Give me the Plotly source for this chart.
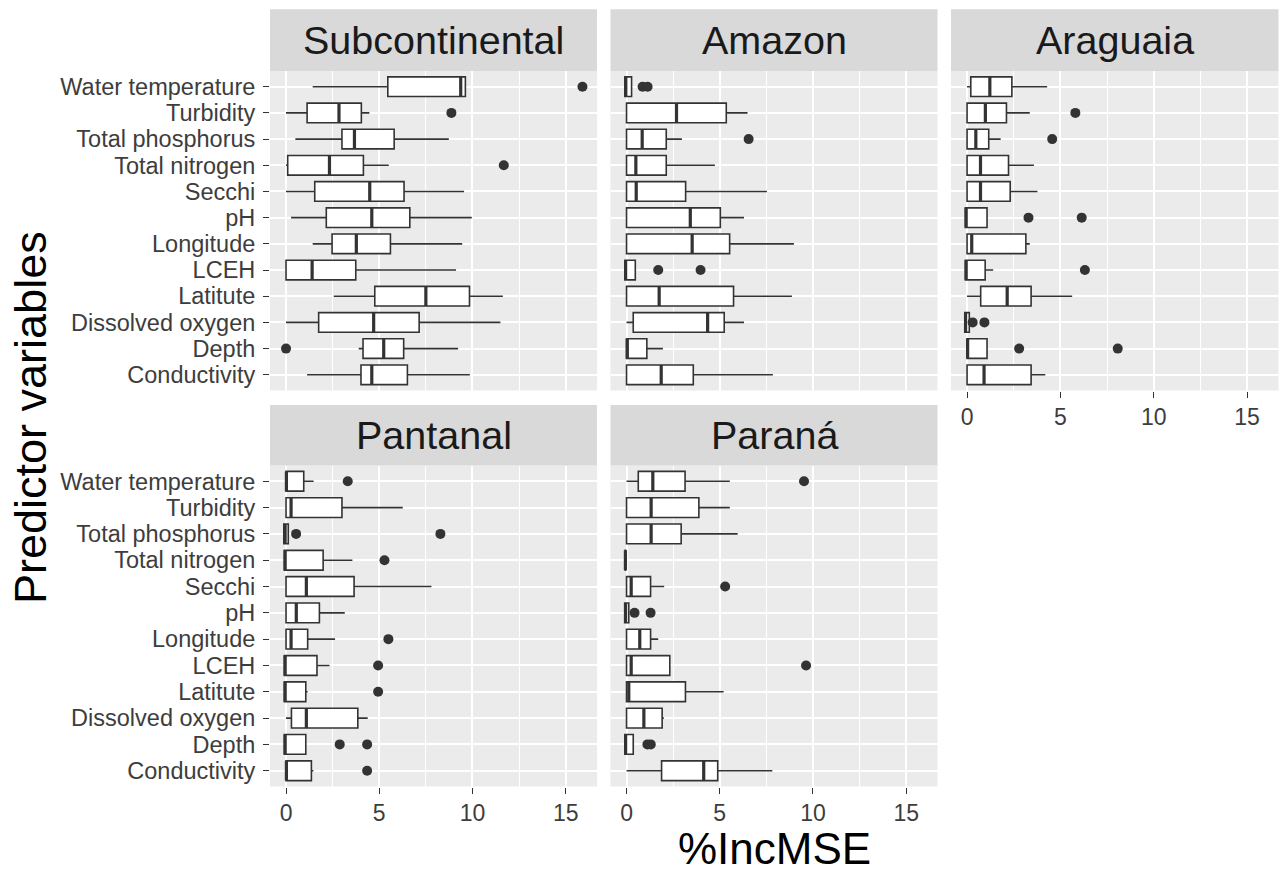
import plotly.graph_objects as go

# ---------------- data ----------------
VARIABLES = ["Water temperature", "Turbidity", "Total phosphorus", "Total nitrogen",
             "Secchi", "pH", "Longitude", "LCEH", "Latitute", "Dissolved oxygen",
             "Depth", "Conductivity"]
REGIONS = ["Subcontinental", "Amazon", "Araguaia", "Pantanal", "Paraná"]
X_TICKS = [0, 5, 10, 15]
X_MINOR = [2.5, 7.5, 12.5]

SUB_LO  = [1.43, 0.00, 0.50, 0.00, 0.00, 0.27, 1.43, 0.00, 2.56, 0.00, 3.90, 1.13]
SUB_Q1  = [5.46, 1.13, 3.00, 0.09, 1.54, 2.16, 2.47, 0.00, 4.76, 1.75, 4.13, 4.02]
SUB_MED = [9.37, 2.84, 3.67, 2.33, 4.49, 4.60, 3.77, 1.40, 7.50, 4.70, 5.24, 4.60]
SUB_Q3  = [9.62, 4.04, 5.80, 4.15, 6.33, 6.64, 5.60, 3.74, 9.84, 7.14, 6.31, 6.51]
SUB_HI  = [9.62, 4.47, 8.73, 5.51, 9.55, 9.96, 9.45, 9.12, 11.63, 11.50, 9.23, 9.86]
SUB_OUT = [[15.9], [8.87], [], [11.68], [], [], [], [], [], [], [0.0], []]

AMA_LO  = [-0.09, 0.00, 0.00, 0.00, 0.00, 0.00, 0.00, -0.09, 0.00, 0.00, 0.00, 0.00]
AMA_Q1  = [-0.09, 0.00, 0.00, 0.00, 0.00, 0.00, 0.00, -0.09, 0.00, 0.36, 0.00, 0.00]
AMA_MED = [-0.04, 2.68, 0.84, 0.50, 0.52, 3.42, 3.52, -0.05, 1.75, 4.35, 0.04, 1.86]
AMA_Q3  = [0.27, 5.35, 2.13, 2.13, 3.17, 5.03, 5.53, 0.47, 5.74, 5.24, 1.09, 3.58]
AMA_HI  = [0.27, 6.49, 2.97, 4.74, 7.53, 6.30, 8.98, 0.47, 8.87, 6.30, 1.95, 7.85]
AMA_OUT = [[0.86, 1.13], [], [6.55], [], [], [], [], [1.70, 3.97], [], [], [], []]

ARA_LO  = [0.00, 0.00, 0.00, 0.00, 0.00, -0.09, 0.00, -0.09, 0.00, -0.12, 0.00, 0.00]
ARA_Q1  = [0.20, 0.00, 0.00, 0.00, 0.00, -0.09, 0.00, -0.09, 0.73, -0.12, 0.00, 0.00]
ARA_MED = [1.22, 0.98, 0.47, 0.72, 0.72, -0.05, 0.25, -0.05, 2.15, -0.08, 0.03, 0.91]
ARA_Q3  = [2.40, 2.11, 1.16, 2.22, 2.31, 1.07, 3.15, 0.97, 3.43, 0.12, 1.07, 3.43]
ARA_HI  = [4.29, 3.36, 1.80, 3.58, 3.77, 1.07, 3.36, 1.40, 5.63, 0.12, 1.07, 4.19]
ARA_OUT = [[], [5.80], [4.56], [], [], [3.29, 6.14], [], [6.31], [], [0.30, 0.93], [2.79, 8.07], []]

PAN_LO  = [0.00, 0.00, -0.12, -0.09, 0.00, 0.00, 0.00, -0.09, -0.09, 0.00, -0.09, 0.00]
PAN_Q1  = [0.00, 0.00, -0.12, -0.09, 0.00, 0.00, 0.00, -0.09, -0.09, 0.29, -0.09, 0.00]
PAN_MED = [0.02, 0.27, -0.05, -0.05, 1.09, 0.55, 0.27, -0.05, -0.05, 1.09, -0.05, 0.02]
PAN_Q3  = [0.95, 3.00, 0.12, 1.99, 3.65, 1.79, 1.16, 1.66, 1.06, 3.85, 1.06, 1.36]
PAN_HI  = [1.48, 6.26, 0.12, 3.56, 7.80, 3.15, 2.63, 2.33, 1.16, 4.38, 1.06, 1.47]
PAN_OUT = [[3.31], [], [0.54, 8.28], [5.28], [], [], [5.49], [4.94], [4.94], [], [2.88, 4.35], [4.35]]

PAR_LO  = [0.00, 0.00, 0.00, -0.07, 0.00, -0.10, 0.00, 0.00, 0.00, 0.00, -0.09, 0.00]
PAR_Q1  = [0.63, 0.00, 0.00, -0.07, 0.00, -0.10, 0.00, 0.00, 0.00, 0.00, -0.09, 1.88]
PAR_MED = [1.41, 1.32, 1.32, -0.06, 0.25, -0.05, 0.71, 0.25, 0.12, 0.93, -0.05, 4.14]
PAR_Q3  = [3.14, 3.88, 2.93, -0.05, 1.29, 0.12, 1.29, 2.32, 3.16, 1.91, 0.36, 4.89]
PAR_HI  = [5.54, 5.54, 5.96, -0.05, 2.02, 0.12, 1.70, 2.32, 5.21, 2.00, 0.36, 7.82]
PAR_OUT = [[9.52], [], [], [], [5.29], [0.43, 1.29], [], [9.63], [], [], [1.12, 1.30], []]

STATS = [
    (SUB_LO, SUB_Q1, SUB_MED, SUB_Q3, SUB_HI, SUB_OUT),
    (AMA_LO, AMA_Q1, AMA_MED, AMA_Q3, AMA_HI, AMA_OUT),
    (ARA_LO, ARA_Q1, ARA_MED, ARA_Q3, ARA_HI, ARA_OUT),
    (PAN_LO, PAN_Q1, PAN_MED, PAN_Q3, PAN_HI, PAN_OUT),
    (PAR_LO, PAR_Q1, PAR_MED, PAR_Q3, PAR_HI, PAR_OUT),
]

# ---------------- layout geometry (pixels) ----------------
W, H = 1282, 872
COLS = [(270.0, 597.0), (610.5, 937.5), (951.0, 1278.5)]
ROWS = [(71.0, 390.5), (465.5, 786.5)]          # panel top/bottom
STRIPS = [(9.3, 71.0), (405.0, 465.5)]          # strip top/bottom
CELLS = [(0, 0), (0, 1), (0, 2), (1, 0), (1, 1)]  # (row, col) per region

FONT = "Liberation Sans, Arial, sans-serif"
DARK = "#333333"
BOXW = 0.75

n = len(VARIABLES)
pos = [n - i for i in range(n)]  # top variable highest

fig = go.Figure()
layout = dict(
    width=W, height=H, margin=dict(l=0, r=0, t=0, b=0),
    paper_bgcolor="white", plot_bgcolor="#EBEBEB",
    showlegend=False, font=dict(family=FONT),
    shapes=[], annotations=[],
)

def xd(a, b):
    return [a / W, b / W]

def yd(top, bottom):
    return [1 - bottom / H, 1 - top / H]

for k, (region, (lo, q1, med, q3, hi, out)) in enumerate(zip(REGIONS, STATS)):
    r, c = CELLS[k]
    ax = "" if k == 0 else str(k + 1)
    xref, yref = "x" + ax, "y" + ax

    fig.add_trace(go.Box(
        y=pos, q1=q1, median=med, q3=q3, lowerfence=lo, upperfence=hi,
        orientation="h", width=BOXW, boxpoints=False,
        fillcolor="white", line=dict(color=DARK, width=1.6),
        whiskerwidth=0, xaxis=xref, yaxis=yref, hoverinfo="skip",
    ))
    # thicker median line (ggplot fatten)
    mx, my = [], []
    for p, m in zip(pos, med):
        mx += [m, m, None]
        my += [p - BOXW / 2, p + BOXW / 2, None]
    fig.add_trace(go.Scatter(x=mx, y=my, mode="lines",
                             line=dict(color=DARK, width=3.2),
                             xaxis=xref, yaxis=yref, hoverinfo="skip"))
    # outliers
    ox, oy = [], []
    for p, o in zip(pos, out):
        for v in o:
            ox.append(v)
            oy.append(p)
    fig.add_trace(go.Scatter(x=ox, y=oy, mode="markers",
                             marker=dict(color=DARK, size=10),
                             xaxis=xref, yaxis=yref, hoverinfo="skip"))

    show_x = (r == 1) or (c == 2)
    show_y = (c == 0)
    layout["xaxis" + ax] = dict(
        domain=xd(*COLS[c]), anchor=yref, range=[-0.86, 16.68],
        tickvals=X_TICKS, ticktext=[str(t) for t in X_TICKS],
        showticklabels=show_x, ticks="outside" if show_x else "",
        ticklen=6, tickwidth=1.3, tickcolor=DARK,
        tickfont=dict(size=23, color="#3D3D3D", family=FONT),
        showgrid=True, gridcolor="white", gridwidth=1.6,
        minor=dict(tickvals=X_MINOR, showgrid=True, gridcolor="white",
                   gridwidth=0.9, ticks=""),
        zeroline=False, showline=False, fixedrange=True,
    )
    layout["yaxis" + ax] = dict(
        domain=yd(*ROWS[r]), anchor=xref, range=[0.4, n + 0.6],
        tickvals=pos, ticktext=VARIABLES,
        showticklabels=show_y, ticks="outside" if show_y else "",
        ticklen=6, tickwidth=1.3, tickcolor=DARK, ticklabelstandoff=3,
        tickfont=dict(size=23.5, color="#3D3D3D", family=FONT),
        showgrid=True, gridcolor="white", gridwidth=1.6,
        zeroline=False, showline=False, fixedrange=True,
    )
    # strip
    st, sb = STRIPS[r]
    x0, x1 = COLS[c]
    layout["shapes"].append(dict(
        type="rect", xref="paper", yref="paper",
        x0=x0 / W, x1=x1 / W, y0=1 - sb / H, y1=1 - st / H,
        fillcolor="#D9D9D9", line=dict(width=0), layer="below"))
    layout["annotations"].append(dict(
        text=region, xref="paper", yref="paper",
        x=(x0 + x1) / 2 / W, y=1 - (st + sb) / 2 / H,
        xanchor="center", yanchor="middle", showarrow=False,
        font=dict(size=39.5, color="#1A1A1A", family=FONT)))

layout["annotations"].append(dict(
    text="%IncMSE", xref="paper", yref="paper", x=774 / W, y=1 - 848 / H,
    xanchor="center", yanchor="middle", showarrow=False,
    font=dict(size=44, color="black", family=FONT)))
layout["annotations"].append(dict(
    text="Predictor variables", xref="paper", yref="paper", x=31 / W, y=1 - 418 / H,
    xanchor="center", yanchor="middle", showarrow=False, textangle=-90,
    font=dict(size=45, color="black", family=FONT)))

fig.update_layout(**layout)
fig.write_html("out.html")
